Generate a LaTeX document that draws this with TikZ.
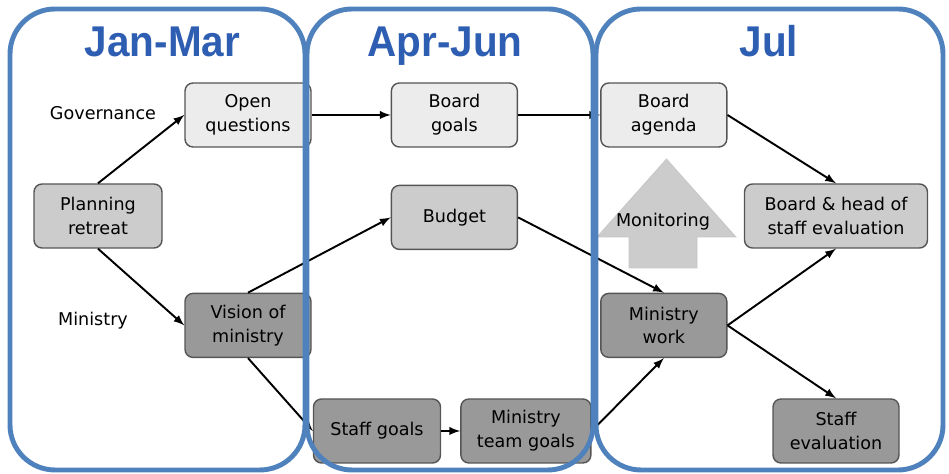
\documentclass[tikz,border=0pt]{standalone}
\usepackage{fontspec}
\setmainfont{DejaVu Sans}
\newfontfamily\titlefont{Liberation Sans}[FakeStretch=0.94]
\usepackage{tikz}
\usetikzlibrary{shapes, arrows, positioning, calc}
\definecolor{panelblue}{RGB}{79,129,189}
\definecolor{titleblue}{RGB}{46,94,178}
\definecolor{boxline}{RGB}{85,85,85}
\tikzset{
  block/.style = {draw=boxline, line width=0.8pt, rounded corners=0.16cm, align=center, minimum width=2.52cm, minimum height=1.28cm, inner sep=1pt, font=\fontsize{10}{13.5}\selectfont},
  arrow/.style = {-latex, line width=1.1pt},
  panel/.style = {draw=panelblue, line width=2.8pt, rounded corners=0.9cm},
  period/.style = {font=\titlefont\bfseries\fontsize{24.5}{28}\selectfont, text=titleblue, anchor=base}
}

\begin{document}
\begin{tikzpicture}[
    node distance=0.74cm and 1.58cm,
    label/.style={font=\fontsize{10}{13.5}\selectfont}
  ]
  \useasboundingbox (0,0) rectangle (18.98,9.48);

  \node[block, fill=gray!40, minimum width=2.56cm] (retreat) at (1.96,5.16) {Planning\\retreat};
  \node[block, fill=gray!15] (openq) at (4.96,7.18) {Open\\questions};
  \node[block, fill=gray!15, right=1.58cm of openq] (bgoals) {Board\\goals};
  \node[block, fill=gray!15, right=1.64cm of bgoals] (agenda) {Board\\agenda};
  \node[block, fill=gray!40, below=0.74cm of bgoals] (budget) {Budget};
  \node[block, fill=gray!80, below=2.9cm of openq] (vision) {Vision of\\ministry};
  \node[block, fill=gray!80, below=2.9cm of agenda] (work) {Ministry\\work};
  \node[block, fill=gray!40, minimum width=3.66cm] (evalhead) at (16.72,5.16) {Board \& head of\\staff evaluation};
  \node[block, fill=gray!80, minimum width=2.54cm] (sgoals) at (7.54,0.86) {Staff goals};
  \node[block, fill=gray!80, minimum width=2.6cm, right=0.38cm of sgoals] (tgoals) {Ministry\\team goals};
  \node[block, fill=gray!80] (seval) at (16.72,0.86) {Staff\\evaluation};

  \node[label] (gov) at (2.06,7.22) {Governance};
  \node[label] (min) at (1.86,3.06) {Ministry};

  \fill[gray!40, draw=gray!45] (11.94,4.74) -- (13.33,6.30) -- (14.72,4.74) -- (13.94,4.74) -- (13.94,4.12) -- (12.58,4.12) -- (12.58,4.74) -- cycle;
  \node[label] (monitor) at (13.26,5.04) {Monitoring};

  \draw[arrow] (retreat.north) -- (openq.west);
  \draw[arrow] (retreat.south) -- (vision.west);
  \draw[arrow] (openq.east) -- (bgoals.west);
  \draw[arrow] (bgoals.east) -- (agenda.west);
  \draw[arrow] (vision.north) -- (budget.west);
  \draw[arrow] (vision.south) -- (sgoals.west);
  \draw[arrow] (sgoals.east) -- (tgoals.west);
  \draw[arrow] (tgoals.east) -- (work.south);
  \draw[arrow] (budget.east) -- (work.north);
  \draw[arrow] (agenda.east) -- (evalhead.north);
  \draw[arrow] (work.east) -- (evalhead.south);
  \draw[arrow] (work.east) -- (seval.north);

  \draw[panel] (0.2,0.08) rectangle (6.1,9.3);
  \draw[panel] (6.14,0.08) rectangle (11.86,9.3);
  \draw[panel] (11.92,0.08) rectangle (18.86,9.3);

  \node[period] (q1) at (3.25,8.34) {Jan-Mar};
  \node[period] (q2) at (8.9,8.34) {Apr-Jun};
  \node[period] (q3) at (15.38,8.34) {Jul};

\end{tikzpicture}
\end{document}
